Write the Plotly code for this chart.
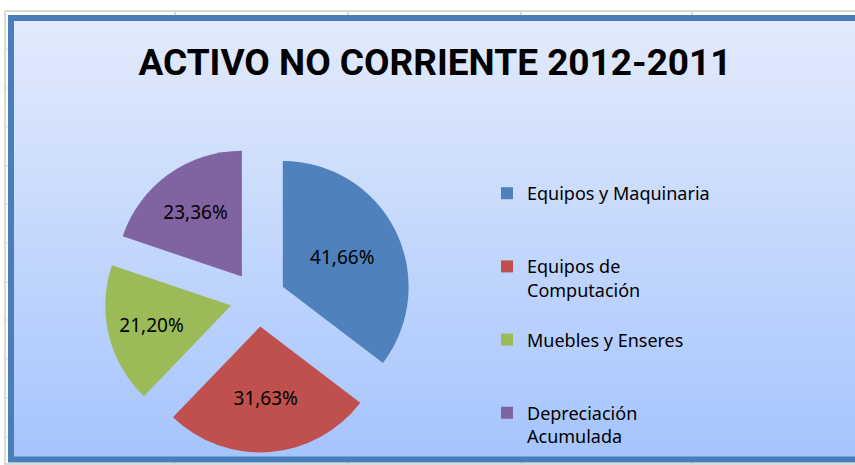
import plotly.graph_objects as go

# ---- data ----
categories = ["Equipos y Maquinaria", "Equipos de<br>Computación", "Muebles y Enseres", "Depreciación<br>Acumulada"]
values = [41.66, 31.63, 21.20, 23.36]
value_labels = ["41,66%", "31,63%", "21,20%", "23,36%"]
colors = ["#4F81BD", "#C0504D", "#9BBB59", "#8064A2"]
title_text = "ACTIVO NO CORRIENTE 2012-2011"

W, H = 855, 465

def px(x):
    return x / W

def py(y):
    return 1 - y / H

# legend labels padded to equal line count so entries are evenly spaced
max_lines = 3
legend_labels = []
for i, c in enumerate(categories):
    if i < len(categories) - 1:
        legend_labels.append(c + "<br> " * (max_lines - 1 - c.count("<br>")))
    else:
        legend_labels.append(c)

fig = go.Figure()
fig.add_trace(go.Pie(
    labels=legend_labels,
    values=values,
    text=value_labels,
    textinfo="text",
    textposition="inside",
    insidetextorientation="horizontal",
    textfont=dict(family="Noto Sans", size=19, color="black"),
    marker=dict(colors=colors, line=dict(width=0)),
    pull=[0.22] * len(values),
    sort=False,
    direction="clockwise",
    rotation=0,
    domain=dict(x=[px(104.5), px(411.5)], y=[py(452.5), py(145.5)]),
    hoverinfo="label+text",
))

shapes = []
# spreadsheet grid lines outside chart
grid = "#D9D9D9"
shapes.append(dict(type="line", xref="paper", yref="paper", x0=px(5), x1=1, y0=py(11), y1=py(11),
                   line=dict(color=grid, width=2), layer="below"))
shapes.append(dict(type="line", xref="paper", yref="paper", x0=px(5), x1=px(5), y0=py(11), y1=0,
                   line=dict(color=grid, width=2), layer="below"))
shapes.append(dict(type="line", xref="paper", yref="paper", x0=px(5), x1=1, y0=py(464), y1=py(464),
                   line=dict(color=grid, width=2), layer="below"))
for gx in [175, 348, 521, 692]:
    shapes.append(dict(type="line", xref="paper", yref="paper", x0=px(gx), x1=px(gx), y0=py(11), y1=py(16),
                       line=dict(color=grid, width=2), layer="below"))
    shapes.append(dict(type="line", xref="paper", yref="paper", x0=px(gx), x1=px(gx), y0=py(461), y1=0,
                       line=dict(color=grid, width=2), layer="below"))
for gy in [49, 88, 127, 166, 204, 243, 282, 320, 359, 398, 437]:
    shapes.append(dict(type="line", xref="paper", yref="paper", x0=px(5), x1=px(9), y0=py(gy), y1=py(gy),
                       line=dict(color=grid, width=1), layer="below"))

# gradient background of chart area (strips)
top_c = (227, 235, 252)
bot_c = (165, 196, 253)
y_top, y_bot = 17, 461
n = 111
for i in range(n):
    t = i / (n - 1)
    c = tuple(round(top_c[k] + (bot_c[k] - top_c[k]) * t) for k in range(3))
    ya = y_top + (y_bot - y_top) * i / n
    yb = y_top + (y_bot - y_top) * (i + 1) / n + 0.6
    shapes.append(dict(type="rect", xref="paper", yref="paper", x0=px(11), x1=1.02,
                       y0=py(yb), y1=py(ya), fillcolor="rgb(%d,%d,%d)" % c,
                       line=dict(width=0), layer="below"))
# chart border
shapes.append(dict(type="rect", xref="paper", yref="paper", x0=px(11), x1=1.02, y0=py(459.5), y1=py(18),
                   line=dict(color="#4A7EBB", width=6), fillcolor="rgba(0,0,0,0)", layer="below"))

fig.update_layout(
    width=W, height=H,
    margin=dict(l=0, r=0, t=0, b=0, autoexpand=False),
    paper_bgcolor="white",
    plot_bgcolor="white",
    shapes=shapes,
    title=dict(text="<b>" + title_text + "</b>", x=px(435), xanchor="center",
               y=py(62), yanchor="middle", yref="paper",
               font=dict(family="Roboto", size=37, color="black")),
    legend=dict(x=px(487), xanchor="left", y=py(175), yanchor="top",
                font=dict(family="Noto Sans", size=18, color="black"),
                valign="top", bgcolor="rgba(0,0,0,0)", borderwidth=0),
    showlegend=True,
)

fig.write_html("out.html", config={"displayModeBar": False},
               post_script="document.body.style.margin='0';")
